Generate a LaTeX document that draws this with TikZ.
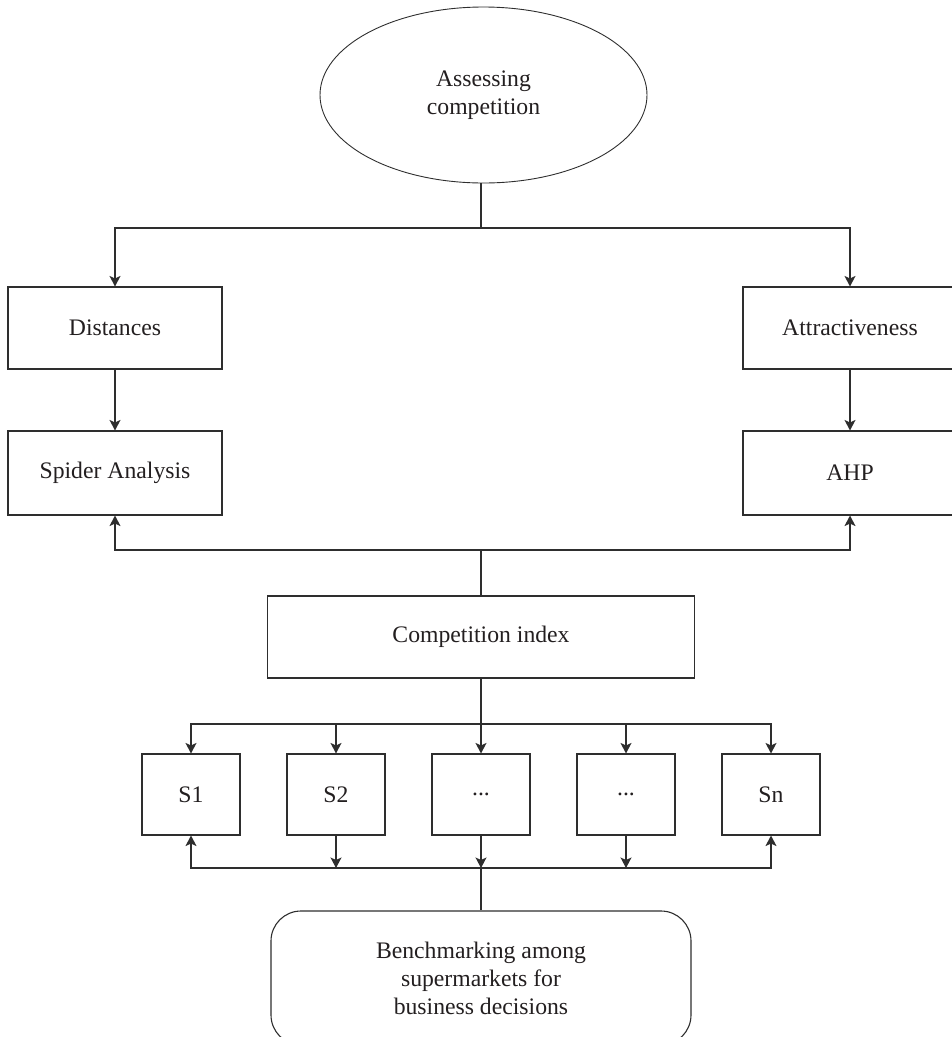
\documentclass[tikz,border=0pt]{standalone}
\usepackage{fontspec}
\setmainfont{Liberation Serif}
\usetikzlibrary{shapes.geometric,arrows.meta}
\definecolor{ink}{HTML}{231F20}
\definecolor{lnc}{HTML}{2E2E2E}
\begin{document}
\begin{tikzpicture}[x=1pt,y=-1pt,
  every node/.style={font=\fontsize{23.7}{28}\selectfont, text=ink},
  box/.style={draw=lnc, line width=1.1pt, rectangle, inner sep=0pt, align=center},
  sbox/.style={box, minimum width=98pt, minimum height=81pt},
  sidebox/.style={box, minimum width=214pt, minimum height=82pt},
  conn/.style={draw=lnc, line width=1.1pt},
  arr/.style={conn, -{Stealth[length=10.5pt,width=11pt,inset=2.5pt]}},
]
\useasboundingbox (0,0) rectangle (952,1037);
\clip (0,0) rectangle (952,1037);

% nodes
\node[ellipse, draw=lnc, line width=0.9pt, minimum width=327pt, minimum height=176pt,
      inner sep=0pt, align=center] (assess) at (483.5,95) {Assessing\\competition};
\node[sidebox] (dist) at (115,328) {Distances};
\node[sidebox] (attr) at (850,328) {Attractiveness};
\node[sidebox, minimum height=84pt] (spider) at (115,473) {Spider Analysis};
\node[sidebox, minimum height=84pt] (ahp) at (850,473) {AHP};
\node[box, minimum width=427pt, minimum height=82pt] (ci) at (481,637) {Competition index};
\node[sbox] (s1) at (191,794.5) {S1};
\node[sbox] (s2) at (336,794.5) {S2};
\node[sbox] (s3) at (481,794.5) {...};
\node[sbox] (s4) at (626,794.5) {...};
\node[sbox] (s5) at (771,794.5) {Sn};
\node[box, rounded corners=30pt, minimum width=420pt, minimum height=134pt] (bench)
      at (481,978) {Benchmarking among\\supermarkets for\\business decisions};

% junctions
\coordinate (j1) at (481,228);
\coordinate (j2) at (481,550);
\coordinate (j3) at (481,724);
\coordinate (j4) at (481,868);

% connectors
\draw[conn] (assess.south -| j1) -- (j1);
\draw[arr] (j1) -| (dist.north);
\draw[arr] (j1) -| (attr.north);
\draw[arr] (dist.south) -- (spider.north);
\draw[arr] (attr.south) -- (ahp.north);
\draw[arr] (j2) -| (spider.south);
\draw[arr] (j2) -| (ahp.south);
\draw[conn] (j2) -- (ci.north);
\draw[arr] (ci.south) -- (s3.north);
\draw[arr] (j3) -| (s1.north);
\draw[arr] (j3) -| (s2.north);
\draw[arr] (j3) -| (s4.north);
\draw[arr] (j3) -| (s5.north);
\draw[arr] (j4) -| (s1.south);
\draw[arr] (j4) -| (s5.south);
\draw[arr] (s2.south) -- (s2.south |- j4);
\draw[arr] (s3.south) -- (j4);
\draw[arr] (s4.south) -- (s4.south |- j4);
\draw[conn] (j4) -- (bench.north);
\end{tikzpicture}
\end{document}
